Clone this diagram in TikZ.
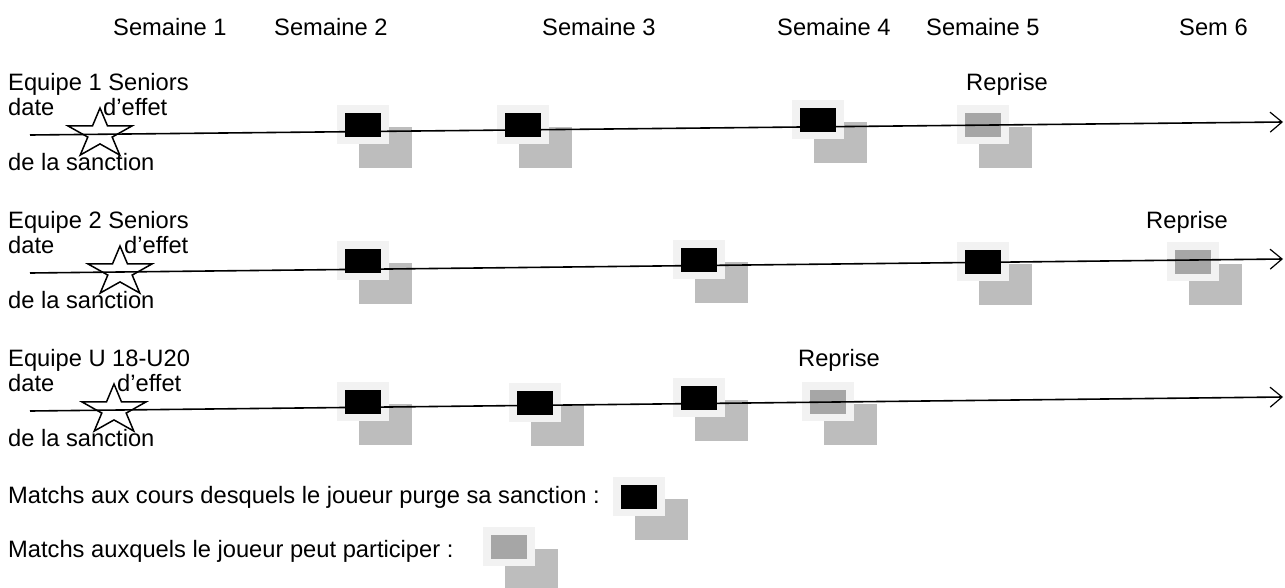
\documentclass[tikz,border=0pt]{standalone}
\usepackage{fontspec}
\setmainfont{Liberation Sans}
\usetikzlibrary{arrows.meta}
\definecolor{lightsq}{HTML}{F2F2F2}
\definecolor{shadowsq}{HTML}{BDBDBD}
\definecolor{freesq}{HTML}{A6A6A6}
\begin{document}
\begin{tikzpicture}[x=1pt,y=-1pt,
  lbl/.style={anchor=base west, inner sep=0pt, font=\fontsize{23.7}{28}\selectfont},
  axisline/.style={line width=1.6pt, -{Straight Barb[length=12pt,width=20pt,line width=1.2pt]}},
  purge/.pic={\fill[shadowsq] (22,22) rectangle (75,63);
              \fill[lightsq] (0,0) rectangle (52,39);
              \fill[black] (8,8) rectangle (44,32);},
  libre/.pic={\fill[shadowsq] (22,22) rectangle (75,63);
              \fill[lightsq] (0,0) rectangle (52,39);
              \fill[freesq] (8,8) rectangle (44,32);},
  etoile/.pic={\draw[line width=1.5pt, line join=miter, x=33.6pt, y=26pt]
     (0,1) -- (0.2245,0.309) -- (0.951,0.309) -- (0.363,-0.118) -- (0.588,-0.809)
     -- (0,-0.382) -- (-0.588,-0.809) -- (-0.363,-0.118) -- (-0.951,0.309)
     -- (-0.2245,0.309) -- cycle;}]
\useasboundingbox (0,0) rectangle (1285,587);

% headers
\node[lbl] (h1) at (113,35) {Semaine 1};
\node[lbl] (h2) at (274,35) {Semaine 2};
\node[lbl] (h3) at (542,35) {Semaine 3};
\node[lbl] (h4) at (777,35) {Semaine 4};
\node[lbl] (h5) at (926,35) {Semaine 5};
\node[lbl] (h6) at (1179,35) {Sem 6};

% row 1
\node[lbl] (e1) at (8,90) {Equipe 1 Seniors};
\node[lbl] (d1) at (8,115) {date};
\node[lbl] (f1) at (103,115) {d’effet};
\node[lbl] (s1) at (8,170) {de la sanction};
\node[lbl] (r1) at (966,90) {Reprise};
\pic at (337,105) {purge};
\pic at (497,105) {purge};
\pic at (792,100) {purge};
\pic at (957,105) {libre};
\coordinate (a1) at (30,135);
\coordinate (b1) at (1283,122);
\draw[axisline] (a1) -- (b1);
\pic at (100,134) {etoile};

% row 2
\node[lbl] (e2) at (8,228) {Equipe 2 Seniors};
\node[lbl] (d2) at (8,253) {date};
\node[lbl] (f2) at (124,253) {d’effet};
\node[lbl] (s2) at (8,308) {de la sanction};
\node[lbl] (r2) at (1146,228) {Reprise};
\pic at (337,241) {purge};
\pic at (673,240) {purge};
\pic at (957,242) {purge};
\pic at (1167,242) {libre};
\coordinate (a2) at (30,273);
\coordinate (b2) at (1283,259);
\draw[axisline] (a2) -- (b2);
\pic at (120,272) {etoile};

% row 3
\node[lbl] (e3) at (8,366) {Equipe U 18-U20};
\node[lbl] (d3) at (8,391) {date};
\node[lbl] (f3) at (117,391) {d’effet};
\node[lbl] (s3) at (8,446) {de la sanction};
\node[lbl] (r3) at (798,366) {Reprise};
\pic at (337,382) {purge};
\pic at (509,383) {purge};
\pic at (673,378) {purge};
\pic at (802,382) {libre};
\coordinate (a3) at (30,411);
\coordinate (b3) at (1283,397);
\draw[axisline] (a3) -- (b3);
\pic at (114,410) {etoile};

% legend
\node[lbl] (l1) at (8,503) {Matchs aux cours desquels le joueur purge sa sanction :};
\pic at (613,477) {purge};
\node[lbl] (l2) at (8,557) {Matchs auxquels le joueur peut participer :};
\pic at (483,527) {libre};
\end{tikzpicture}
\end{document}
